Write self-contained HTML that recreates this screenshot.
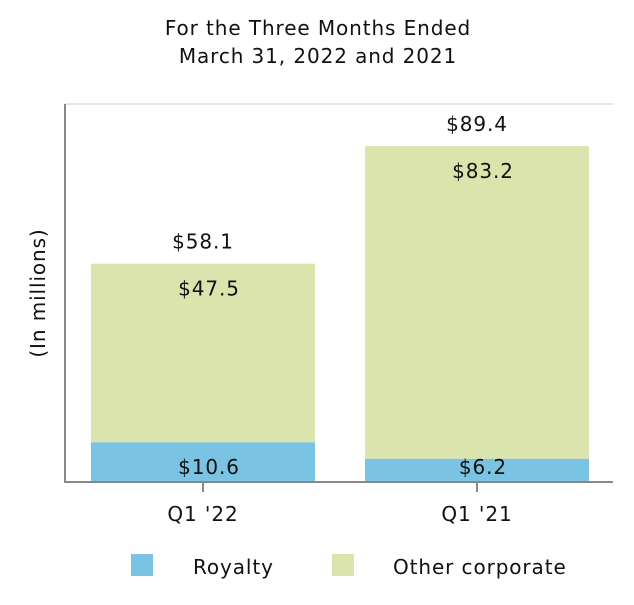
<!DOCTYPE html>
<html><head><meta charset="utf-8"><style>
body{margin:0;background:#fff;}
svg text{font-family:"DejaVu Sans","Liberation Sans",sans-serif;font-size:20px;fill:#111;letter-spacing:0.9px;}
</style></head><body>
<svg id="chart" width="634" height="600">
<text x="318" y="35" text-anchor="middle">For the Three Months Ended</text>
<text x="318" y="63" text-anchor="middle">March 31, 2022 and 2021</text>
<line x1="65" y1="104" x2="613" y2="104" stroke="#e6e6e6" stroke-width="2"/>
<text transform="translate(45,293) rotate(-90)" text-anchor="middle">(In millions)</text>
<g id="bars"></g>
<line x1="65" y1="104" x2="65" y2="483" stroke="#888" stroke-width="2"/>
<line x1="65" y1="482" x2="613" y2="482" stroke="#888" stroke-width="2"/>
<rect x="131" y="554" width="22" height="22" fill="#7ac3e2"/>
<text x="193" y="574">Royalty</text>
<rect x="332" y="554" width="22" height="22" fill="#dce4ae"/>
<text x="393" y="574">Other corporate</text>
</svg>
<script>
const categories=["Q1 '22","Q1 '21"];
const royalty=[10.6,6.2];
const other=[47.5,83.2];
const totals=[58.1,89.4];
const yMax=100.6;
const y0=482,yTop=104;
function y(v){return y0-(v/yMax)*(y0-yTop);}
function xc(i){return 203+i*274;}
const ns="http://www.w3.org/2000/svg";
const g=document.getElementById('bars');
function mk(tag,attrs,txt){const e=document.createElementNS(ns,tag);for(const k in attrs)e.setAttribute(k,attrs[k]);if(txt!==undefined)e.textContent=txt;g.appendChild(e);return e;}
categories.forEach((c,i)=>{
  const cx=xc(i),w=224;
  let r=mk('rect',{x:cx-w/2,y:y(royalty[i]),width:w,height:y0-y(royalty[i]),fill:'#7ac3e2'});
  
  
  let o=mk('rect',{x:cx-w/2,y:y(royalty[i]+other[i]),width:w,height:y(royalty[i])-y(royalty[i]+other[i]),fill:'#dce4ae'});
  
  
  let t=mk('text',{x:cx,y:y(royalty[i]+other[i])-15,'text-anchor':'middle'},'$'+totals[i].toFixed(1));
  
  
  let ol=mk('text',{x:cx+6,y:y(royalty[i]+other[i])+32,'text-anchor':'middle'},'$'+other[i].toFixed(1));
  
  
  let rl=mk('text',{x:cx+6,y:y0-8,'text-anchor':'middle'},'$'+royalty[i].toFixed(1));
  
  
  let tk=mk('line',{x1:cx,y1:482,x2:cx,y2:492,stroke:'#888','stroke-width':2});
  
  
  let xl=mk('text',{x:cx,y:521,'text-anchor':'middle'},c);
  
  
});
</script>
</body></html>
